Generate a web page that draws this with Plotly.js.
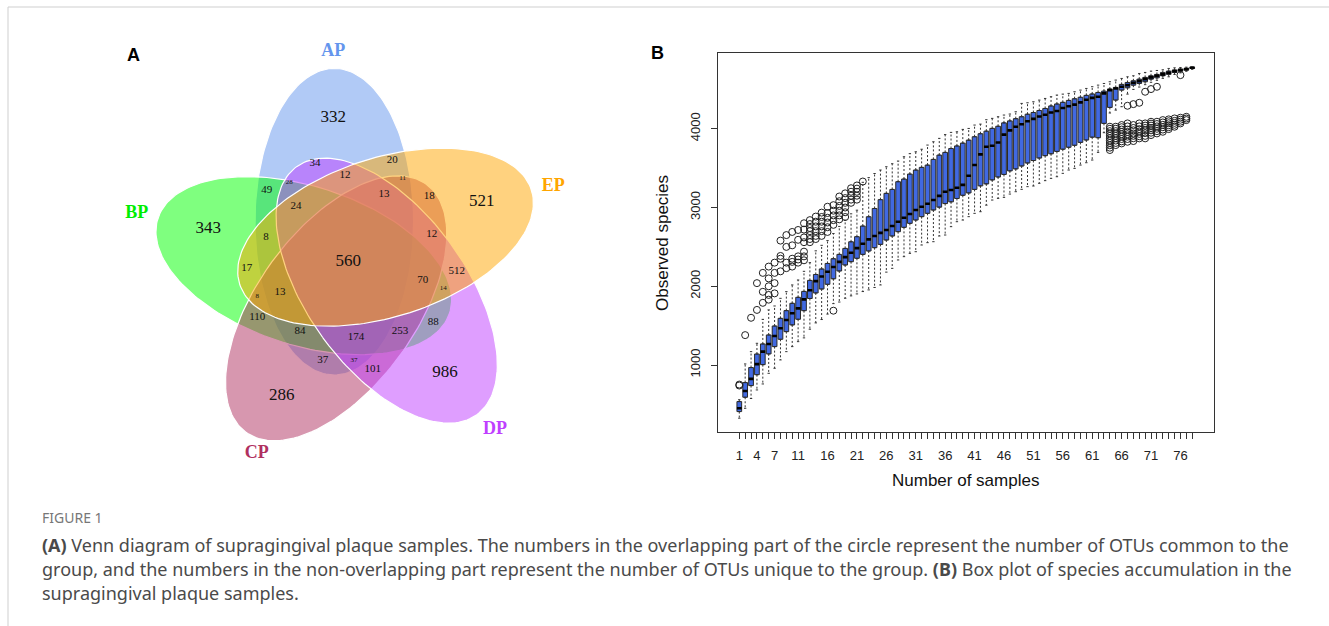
<!DOCTYPE html>
<html><head><meta charset="utf-8">
<script src="https://cdn.plot.ly/plotly-3.0.1.min.js"></script>
<style>html,body{margin:0;padding:0;background:#fff}#chart{width:1329px;height:626px}</style>
</head><body><div id="chart"></div>
<script>
// ---------- Panel B data ----------
const samples = [1,2,3,4,5,6,7,8,9,10,11,12,13,14,15,16,17,18,19,20,21,22,23,24,25,26,27,28,29,30,31,32,33,34,35,36,37,38,39,40,41,42,43,44,45,46,47,48,49,50,51,52,53,54,55,56,57,58,59,60,61,62,63,64,65,66,67,68,69,70,71,72,73,74,75,76,77,78];
const labelledTicks = [1,4,7,11,16,21,26,31,36,41,46,51,56,61,66,71,76];
const lowerWhisker = [325,451,575,684,760,895,959,1065,1170,1234,1297,1345,1455,1535,1578,1647,1780,1800,1848,1878,1903,1933,1954,1985,2017,2180,2228,2334,2376,2418,2439,2524,2554,2566,2638,2651,2757,2820,2841,2884,2926,2947,3030,3095,3116,3129,3171,3201,3231,3265,3273,3307,3341,3370,3391,3434,3476,3497,3539,3569,3603,3700,3950,4200,4237,4280,4440,4500,4530,4560,4590,4615,4640,4660,4690,4710,4730,4755];
const q1 = [409,591,739,877,1005,1141,1234,1327,1424,1509,1581,1690,1845,1915,1965,2025,2095,2194,2270,2312,2355,2405,2448,2490,2532,2587,2638,2693,2748,2799,2841,2884,2926,2968,3005,3050,3072,3115,3155,3185,3230,3275,3300,3350,3387,3420,3465,3490,3527,3565,3597,3628,3658,3682,3712,3740,3765,3790,3827,3857,3893,3886,4068,4271,4364,4491,4520,4554,4575,4597,4630,4647,4673,4690,4715,4732,4745,4766];
const median = [451,671,824,1012,1170,1268,1369,1467,1572,1657,1720,1834,1950,2065,2125,2185,2245,2310,2370,2425,2485,2540,2595,2638,2678,2714,2765,2820,2871,2917,2968,3010,3048,3095,3148,3200,3222,3252,3287,3404,3540,3675,3772,3785,3825,3925,3980,4026,4058,4095,4125,4155,4178,4206,4225,4263,4286,4307,4335,4368,4392,4406,4449,4491,4512,4533,4554,4584,4605,4630,4652,4673,4690,4711,4732,4745,4757,4774];
const q3 = [536,777,968,1140,1268,1382,1496,1593,1691,1784,1860,1935,2075,2150,2220,2290,2350,2405,2481,2565,2630,2765,2883,2988,3100,3180,3230,3328,3362,3425,3476,3510,3539,3611,3666,3700,3749,3782,3818,3856,3899,3937,3970,4005,4032,4075,4100,4128,4153,4185,4206,4232,4258,4290,4315,4336,4360,4381,4400,4424,4442,4461,4478,4504,4525,4563,4588,4609,4630,4652,4673,4690,4715,4732,4745,4757,4766,4783];
const upperWhisker = [560,1014,1170,1276,1580,1700,1750,1847,1932,2017,2080,2190,2300,2450,2520,2580,2670,2760,2840,2920,2966,3320,3380,3432,3476,3518,3556,3590,3645,3684,3708,3740,3793,3835,3878,3926,3954,3962,3992,4004,4047,4059,4115,4132,4153,4174,4187,4216,4322,4330,4343,4364,4385,4407,4428,4440,4449,4470,4491,4512,4534,4554,4575,4597,4618,4639,4660,4673,4702,4715,4732,4740,4749,4766,4774,4778,4782,4790];
const outliers = [
 [740,752],[1380],[1600],[1700,2040],[1790,1930,2170],[1830,1890,2000,2100,2250],[1910,2040,2170,2300],
 [2190,2350,2385,2580],[2230,2300,2500,2650],[2250,2310,2350,2520,2690],[2300,2340,2380,2590,2715],
 [2330,2380,2440,2560,2620,2720,2800],[2560,2600,2650,2700,2740,2790,2840],[2600,2640,2700,2760,2820,2885],
 [2640,2700,2760,2820,2880,2935],[2690,2750,2810,2870,2930,3010],[1690,2780,2840,2900,2960,3030],
 [2850,2900,2960,3020,3080,3140],[2880,2940,3000,3060,3120,3180],[3060,3100,3150,3200,3245],
 [3100,3150,3200,3240,3280],[3330],
 [],[],[],[],[],[],[],[],[],[],[],[],[],[],[],[],[],[],[],[],[],[],[],[],[],[],[],[],[],[],[],[],[],[],[],[],[],[],[],[],[],
 [3730,3760,3790,3820,3850,3880,3910,3940,3970,4000,4026],
 [3793,3820,3850,3880,3910,3940,3970,4000,4026],
 [3814,3840,3870,3900,3930,3960,3990,4020,4047],
 [3835,3870,3900,3930,3960,3990,4030,4068,4292],
 [3844,3880,3910,3940,3980,4010,4047,4313],
 [3878,3905,3935,3965,3995,4030,4068,4330],
 [3878,3910,3945,3980,4010,4040,4068,4470],
 [3920,3950,3980,4010,4040,4065,4089,4504],
 [3941,3970,4000,4030,4060,4089,4533],
 [3962,3990,4020,4050,4080,4110],
 [3996,4020,4045,4070,4095,4119],
 [4026,4050,4075,4100,4131],
 [4068,4090,4115,4140,4681],
 [4110,4130,4152],
 []
];

// ---------- Panel A data ----------
const vennSets = ['AP','BP','CP','DP','EP'];
const vennCounts = [332,343,521,286,986,560,34,20,12,11,13,18,49,28,24,8,12,17,13,8,70,512,14,110,84,174,253,88,37,37,101];
const vennLabelX = [333.3,208.3,481.7,281.7,445,348.3,315,392.3,345,402.7,384,429.3,266.7,289.3,296,266,431.7,246.7,280,257.3,422.7,456.7,443.3,257.3,300,356,400,433.3,322.7,354,372.7];
const vennLabelY = [117.3,229,201.7,396,372.3,261.7,163.3,160,175,178.3,194.3,196.7,190,182.7,206,237.3,234.3,268.3,292.3,296.7,280,271.7,288.3,317.3,331.7,337.3,331.7,322.3,360.7,360.7,369];
const vennLabelSize = [17,17,17,17,17,17,11,11,11,7,11,11,11,7,11,11,11,11,11,7,11,11,7,11,11,11,11,11,11,7,11];

// ---------- build panel B traces ----------
const wx=[], wy=[], cx=[], cy=[], mx=[], my=[], ox=[], oy=[];
samples.forEach((s,i)=>{
  wx.push(s,s,null,s,s,null); wy.push(q3[i],upperWhisker[i],null,q1[i],lowerWhisker[i],null);
  cx.push(s-0.2,s+0.2,null,s-0.2,s+0.2,null); cy.push(upperWhisker[i],upperWhisker[i],null,lowerWhisker[i],lowerWhisker[i],null);
  mx.push(s-0.4,s+0.4,null); my.push(median[i],median[i],null);
  outliers[i].forEach(v=>{ox.push(s); oy.push(v);});
});
const tickText = samples.map(s=> labelledTicks.includes(s) ? String(s) : '');

const traces = [
 {type:'scatter',mode:'lines',x:wx,y:wy,line:{color:'#333',width:1,dash:'2px,2px'},hoverinfo:'skip',showlegend:false,xaxis:'x',yaxis:'y'},
 {type:'box',x:samples,q1:q1,median:median,q3:q3,lowerfence:q1,upperfence:q3,width:0.8,fillcolor:'#4169E1',line:{color:'#2a2a2a',width:1},hoverinfo:'skip',showlegend:false,xaxis:'x',yaxis:'y'},
 {type:'scatter',mode:'lines',x:mx,y:my,line:{color:'#000',width:2.6},hoverinfo:'skip',showlegend:false,xaxis:'x',yaxis:'y'},
 {type:'scatter',mode:'lines',x:cx,y:cy,line:{color:'#333',width:1},hoverinfo:'skip',showlegend:false,xaxis:'x',yaxis:'y'},
 {type:'scatter',mode:'markers',x:ox,y:oy,marker:{symbol:'circle-open',size:7,color:'#222',line:{width:1}},hoverinfo:'skip',showlegend:false,xaxis:'x',yaxis:'y'}
];

// ---------- build panel A traces ----------
const fillColors = {AP:'rgba(100,149,237,0.5)',BP:'rgba(0,255,0,0.5)',CP:'rgba(176,48,96,0.5)',DP:'rgba(191,62,255,0.5)',EP:'rgba(255,165,0,0.5)'};
const rotStep = {AP:0,EP:1,DP:2,CP:3,BP:4};
const F = [349.3,264.7], C0 = [334.3,221.7], semiMinor = 79.3, semiMajor = 153.3;
function rot(p,th){return [p[0]*Math.cos(th)-p[1]*Math.sin(th), p[0]*Math.sin(th)+p[1]*Math.cos(th)];}
vennSets.forEach(name=>{
  const th = rotStep[name]*72*Math.PI/180;
  const c = rot([C0[0]-F[0],C0[1]-F[1]],th);
  const xs=[], ys=[];
  for(let k=0;k<=180;k++){
    const t = k/180*2*Math.PI;
    const p = rot([semiMinor*Math.cos(t), semiMajor*Math.sin(t)],th);
    xs.push(F[0]+c[0]+p[0]); ys.push(F[1]+c[1]+p[1]);
  }
  traces.push({type:'scatter',mode:'lines',x:xs,y:ys,fill:'toself',fillcolor:fillColors[name],line:{color:'#ffffff',width:1.2},hoverinfo:'skip',showlegend:false,xaxis:'x2',yaxis:'y2'});
});
traces.push({type:'scatter',mode:'text',x:vennLabelX,y:vennLabelY,text:vennCounts.map(String),textposition:'middle center',
  textfont:{family:'Liberation Serif, Times New Roman, serif',size:vennLabelSize,color:'#111'},hoverinfo:'skip',showlegend:false,xaxis:'x2',yaxis:'y2'});
const setLabelX=[333.3,136.7,256.7,495,553.3], setLabelY=[51.5,213.5,453.5,429,186];
const setLabelColor=['rgb(100,149,237)','rgb(0,238,0)','rgb(176,48,96)','rgb(191,62,255)','rgb(255,165,0)'];
traces.push({type:'scatter',mode:'text',x:setLabelX,y:setLabelY,text:vennSets.map(s=>'<b>'+s+'</b>'),textposition:'middle center',
  textfont:{family:'Liberation Serif, Times New Roman, serif',size:18,color:setLabelColor},hoverinfo:'skip',showlegend:false,xaxis:'x2',yaxis:'y2'});

// ---------- layout ----------
const W=1329,H=626;
const px=x=>x/W, py=y=>1-y/H;
const capFont={family:'Noto Sans, Open Sans, sans-serif',size:18,color:'#4a4a4a'};
function note(x,y,text,font,extra){return Object.assign({xref:'paper',yref:'paper',x:px(x),y:py(y),xanchor:'center',yanchor:'middle',text:text,showarrow:false,font:font},extra||{});}
const layout = {
  width:W,height:H,margin:{l:0,r:0,t:0,b:0},paper_bgcolor:'#fff',plot_bgcolor:'rgba(0,0,0,0)',showlegend:false,
  xaxis:{domain:[718/W,1213.5/W],range:[-2.62,81.62],tickmode:'array',tickvals:samples,ticktext:tickText,ticks:'outside',ticklen:6,tickwidth:1,tickcolor:'#333',
    showline:true,mirror:true,linecolor:'#333',linewidth:1,showgrid:false,zeroline:false,ticklabelstandoff:5,
    tickfont:{family:'Liberation Sans, Arial, sans-serif',size:13,color:'#222'},anchor:'y',fixedrange:true},
  yaxis:{domain:[py(432.3),py(53)],range:[146,4962],tickmode:'array',tickvals:[1000,2000,3000,4000],ticks:'outside',ticklen:6,tickwidth:1,tickcolor:'#333',
    tickangle:-90,showline:true,mirror:true,linecolor:'#333',linewidth:1,showgrid:false,zeroline:false,ticklabelstandoff:6,
    tickfont:{family:'Liberation Sans, Arial, sans-serif',size:13,color:'#222'},anchor:'x',fixedrange:true},
  xaxis2:{domain:[0,598/W],range:[0,598],visible:false,anchor:'y2',fixedrange:true},
  yaxis2:{domain:[0,1],range:[626,0],visible:false,anchor:'x2',fixedrange:true},
  shapes:[
    {type:'line',xref:'paper',yref:'paper',x0:px(8),x1:1,y0:py(7),y1:py(7),line:{color:'#cfcfcf',width:1}},
    {type:'line',xref:'paper',yref:'paper',x0:px(8),x1:px(8),y0:py(7),y1:0,line:{color:'#cfcfcf',width:1}}
  ],
  annotations:[
    note(133,55,'<b>A</b>',{family:'Liberation Sans, Arial, sans-serif',size:18,color:'#000'}),
    note(657,53,'<b>B</b>',{family:'Liberation Sans, Arial, sans-serif',size:18,color:'#000'}),
    note(965.5,480,'Number of samples',{family:'Liberation Sans, Arial, sans-serif',size:17,color:'#111'}),
    note(662,243,'Observed species',{family:'Liberation Sans, Arial, sans-serif',size:17,color:'#111'},{textangle:-90}),
    note(40,517,'FIGURE 1',{family:'Noto Sans, Open Sans, sans-serif',size:14,color:'#777'},{xanchor:'left'}),
    note(40,545,'<b>(A)</b> Venn diagram of supragingival plaque samples. The numbers in the overlapping part of the circle represent the number of OTUs common to the',capFont,{xanchor:'left'}),
    note(40,569,'group, and the numbers in the non-overlapping part represent the number of OTUs unique to the group. <b>(B)</b> Box plot of species accumulation in the',capFont,{xanchor:'left'}),
    note(40,593,'supragingival plaque samples.',capFont,{xanchor:'left'})
  ]
};
Plotly.newPlot('chart',traces,layout,{staticPlot:true,displayModeBar:false});
</script></body></html>
